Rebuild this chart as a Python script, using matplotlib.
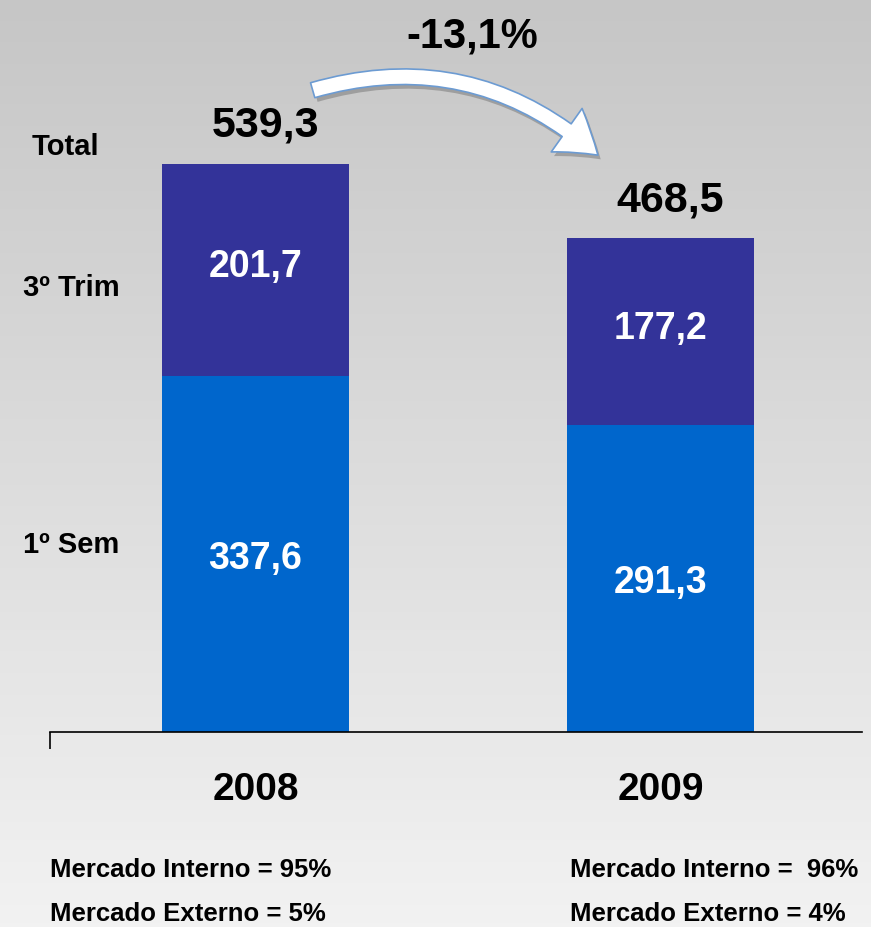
import numpy as np
import matplotlib.pyplot as plt
from matplotlib.colors import LinearSegmentedColormap
from matplotlib.patches import FancyArrowPatch
import matplotlib.patheffects as pe

# ================= DATA =================
years = ["2008", "2009"]
sem1 = [337.6, 291.3]
trim3 = [201.7, 177.2]
totals = [539.3, 468.5]
variation = "-13,1%"
row_labels = ["Total", "3º Trim", "1º Sem"]
mercado = [("Mercado Interno = 95%", "Mercado Externo = 5%"),
           ("Mercado Interno =  96%", "Mercado Externo = 4%")]

fmt = lambda v: f"{v:.1f}".replace(".", ",")

C_SEM = "#0066CC"
C_TRIM = "#333399"
FONT = ["Liberation Sans", "DejaVu Sans"]

W, H = 871, 928
fig = plt.figure(figsize=(W / 100, H / 100), dpi=100)

# background gradient
bg = fig.add_axes([0, 0, 1, 1], zorder=-10)
grad = np.linspace(0, 1, 256).reshape(-1, 1)
bg.imshow(grad, aspect="auto", cmap=LinearSegmentedColormap.from_list(
    "g", ["#c6c6c6", "#f2f2f2"]), extent=[0, 1, 0, 1], origin="upper")
bg.set_axis_off()

# ================= BARS =================
ax_l, ax_r, ax_b = 50, 862, 733
ax = fig.add_axes([ax_l / W, 1 - ax_b / H, (ax_r - ax_l) / W, ax_b / H])
ax.patch.set_alpha(0)
px_per_unit = 1.054
ax.set_ylim(0, ax_b / px_per_unit)
ax.set_xlim(ax_l, ax_r)
xpos = [255.5, 660.5]
bw = 187

ax.bar(xpos, sem1, width=bw, color=C_SEM)
ax.bar(xpos, trim3, width=bw, bottom=sem1, color=C_TRIM)

for x, s, t, tot in zip(xpos, sem1, trim3, totals):
    ax.text(x, s * 0.49, fmt(s), ha="center", va="center", color="white",
            fontsize=27, fontweight="bold", family=FONT)
    ax.text(x, s + t * 0.52, fmt(t), ha="center", va="center", color="white",
            fontsize=27, fontweight="bold", family=FONT)
    ax.text(x + 10, s + t + 18, fmt(tot), ha="center", va="bottom", color="black",
            fontsize=31, fontweight="bold", family=FONT)

for sp in ["top", "right", "left"]:
    ax.spines[sp].set_visible(False)
ax.spines["bottom"].set_linewidth(1.2)
ax.set_yticks([])
ax.set_xticks([ax_l])
ax.set_xticklabels([""])
ax.tick_params(axis="x", length=12, width=1.2, direction="out")

# year labels
for x, y in zip(xpos, years):
    fig.text(x / W, 1 - 790 / H, y, ha="center", va="center",
             fontsize=28, fontweight="bold", family=FONT)

# row labels
for lab, (lx, ly) in zip(row_labels, [(65, 147), (71, 288), (71, 545)]):
    fig.text(lx / W, 1 - ly / H, lab, ha="center", va="center",
             fontsize=21, fontweight="bold", family=FONT)

# variation
fig.text(472 / W, 1 - 37 / H, variation, ha="center", va="center",
         fontsize=30, fontweight="bold", family=FONT)

# curved arrow
arrow = FancyArrowPatch((310 / W, 1 - 92 / H), (600 / W, 1 - 158 / H),
                        transform=fig.transFigure,
                        connectionstyle="arc3,rad=-0.28",
                        arrowstyle="simple,head_width=2.4,head_length=1.8,tail_width=0.7",
                        mutation_scale=16, facecolor="white", edgecolor="#6c9bd2",
                        linewidth=1.2,
                        path_effects=[pe.SimplePatchShadow(offset=(2, -3), alpha=0.35),
                                      pe.Normal()])
fig.add_artist(arrow)

# market shares
for (l1, l2), lx in zip(mercado, [50, 570]):
    fig.text(lx / W, 1 - 870 / H, l1, ha="left", va="center",
             fontsize=18.5, fontweight="bold", family=FONT)
    fig.text(lx / W, 1 - 914 / H, l2, ha="left", va="center",
             fontsize=18.5, fontweight="bold", family=FONT)

fig.savefig("out.png", dpi=100)
